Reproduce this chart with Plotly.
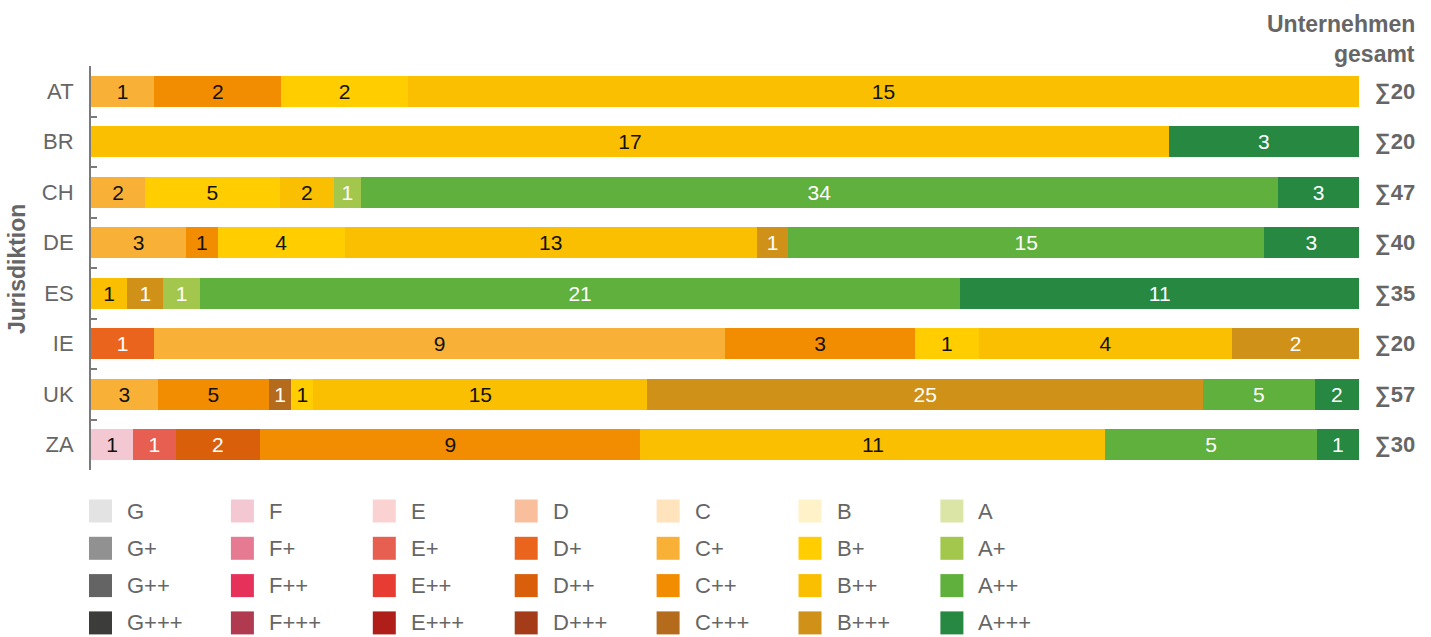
import plotly.graph_objects as go

# ---------------- data ----------------
jurisdictions = ["AT", "BR", "CH", "DE", "ES", "IE", "UK", "ZA"]
letters = ["G", "F", "E", "D", "C", "B", "A"]
levels = ["", "+", "++", "+++"]
grades = [l + s for l in letters for s in levels]

# number of companies per rating grade, one value per jurisdiction
F_0   = [0, 0, 0, 0, 0, 0, 0, 1]
E_1   = [0, 0, 0, 0, 0, 0, 0, 1]
D_1   = [0, 0, 0, 0, 0, 1, 0, 0]
D_2   = [0, 0, 0, 0, 0, 0, 0, 2]
C_1   = [1, 0, 2, 3, 0, 9, 3, 0]
C_2   = [2, 0, 0, 1, 0, 3, 5, 9]
C_3   = [0, 0, 0, 0, 0, 0, 1, 0]
B_1   = [2, 0, 5, 4, 0, 1, 1, 0]
B_2   = [15, 17, 2, 13, 1, 4, 15, 11]
B_3   = [0, 0, 0, 1, 1, 2, 25, 0]
A_1   = [0, 0, 1, 0, 1, 0, 0, 0]
A_2   = [0, 0, 34, 15, 21, 0, 5, 5]
A_3   = [0, 3, 3, 3, 11, 0, 2, 1]

counts = {
    "F": F_0, "E+": E_1, "D+": D_1, "D++": D_2,
    "C+": C_1, "C++": C_2, "C+++": C_3,
    "B+": B_1, "B++": B_2, "B+++": B_3,
    "A+": A_1, "A++": A_2, "A+++": A_3,
}

# ---------------- styles ----------------
colors = {
    "G": "#e3e3e3", "G+": "#919191", "G++": "#646464", "G+++": "#3c3c3a",
    "F": "#f4c8d2", "F+": "#e67a92", "F++": "#e6325a", "F+++": "#b03a50",
    "E": "#fad2d2", "E+": "#e65f50", "E++": "#e63c32", "E+++": "#b01e19",
    "D": "#f9bf9d", "D+": "#eb641e", "D++": "#d95f0a", "D+++": "#a53c19",
    "C": "#fee3bc", "C+": "#f8b136", "C++": "#f28c00", "C+++": "#b46c1c",
    "B": "#fff2c8", "B+": "#ffcd00", "B++": "#f9bf00", "B+++": "#cf9117",
    "A": "#dbe5a5", "A+": "#a3c74d", "A++": "#5fb03d", "A+++": "#268841",
}
dark_text = {"G", "G+", "F", "E", "D", "C", "C+", "C++", "B", "B+", "B++", "A"}

FONT = "Liberation Sans, Arial, Helvetica, sans-serif"
GRAY = "#666666"
AXIS = "#7a7a7a"

# layout geometry (pixels)
W, H = 1431, 637
ML, MR, MT, MB = 91, 72, 66, 167
PW = W - ML - MR
PH = H - MT - MB


def px_x(p):
    return (p - ML) / PW


def px_y(p):
    return (H - MB - p) / PH


fig = go.Figure()
n = len(jurisdictions)
for g in grades:
    vals = counts.get(g, [0] * n)
    fig.add_trace(go.Bar(
        y=jurisdictions,
        x=[v if v else None for v in vals],
        orientation="h",
        name=g,
        marker=dict(color=colors[g], line=dict(width=0)),
        text=[str(v) if v else "" for v in vals],
        texttemplate="%{text}",
        textposition="inside",
        insidetextanchor="middle",
        textangle=0,
        constraintext="none",
        textfont=dict(family=FONT, size=21,
                      color="#111111" if g in dark_text else "#ffffff"),
        showlegend=False,
        hoverinfo="skip",
    ))

totals = [sum(counts[g][i] for g in counts) for i in range(n)]

annotations = []
for j, t in zip(jurisdictions, totals):
    annotations.append(dict(
        x=px_x(1417), xref="paper", y=j, yref="y",
        xanchor="right", yanchor="middle", showarrow=False,
        text="<b>∑" + str(t) + "</b>",
        font=dict(family=FONT, size=22, color=GRAY),
    ))

annotations.append(dict(
    x=px_x(1417), xref="paper", y=px_y(24), yref="paper",
    xanchor="right", yanchor="middle", showarrow=False,
    text="<b>Unternehmen</b>", font=dict(family=FONT, size=23, color=GRAY)))
annotations.append(dict(
    x=px_x(1417), xref="paper", y=px_y(54), yref="paper",
    xanchor="right", yanchor="middle", showarrow=False,
    text="<b>gesamt</b>", font=dict(family=FONT, size=23, color=GRAY)))

annotations.append(dict(
    x=px_x(17), xref="paper", y=px_y(269), yref="paper",
    xanchor="center", yanchor="middle", showarrow=False, textangle=-90,
    text="<b>Jurisdiktion</b>", font=dict(family=FONT, size=23, color=GRAY)))

# legend grid: columns = letters, rows = levels
shapes = []
col_x0, col_dx = 89, 141.9
row_y0, row_dy = 511, 37.3
sw = 23
for c, l in enumerate(letters):
    for r, s in enumerate(levels):
        g = l + s
        x0 = col_x0 + c * col_dx
        yc = row_y0 + r * row_dy
        shapes.append(dict(
            type="rect", xref="paper", yref="paper",
            x0=px_x(x0), x1=px_x(x0 + sw),
            y0=px_y(yc + sw / 2), y1=px_y(yc - sw / 2),
            fillcolor=colors[g], line=dict(width=0), layer="above"))
        annotations.append(dict(
            x=px_x(x0 + 36), xref="paper", y=px_y(yc), yref="paper",
            xanchor="left", yanchor="middle", showarrow=False,
            text=g, font=dict(family=FONT, size=22, color=GRAY)))

fig.update_layout(
    width=W, height=H,
    margin=dict(l=ML, r=MR, t=MT, b=MB, pad=0),
    barmode="stack", barnorm="percent", bargap=0.385,
    plot_bgcolor="white", paper_bgcolor="white",
    font=dict(family=FONT, color=GRAY),
    xaxis=dict(visible=False, range=[0, 100], fixedrange=True),
    yaxis=dict(
        categoryorder="array", categoryarray=jurisdictions,
        autorange="reversed",
        showline=True, linecolor=AXIS, linewidth=2,
        ticks="inside", tickson="boundaries", ticklen=6, tickwidth=2,
        tickcolor=AXIS,
        tickfont=dict(family=FONT, size=22, color=GRAY),
        ticklabelstandoff=11,
        showgrid=False, zeroline=False, fixedrange=True,
    ),
    annotations=annotations,
    shapes=shapes,
    showlegend=False,
)

fig.write_html("out.html")
